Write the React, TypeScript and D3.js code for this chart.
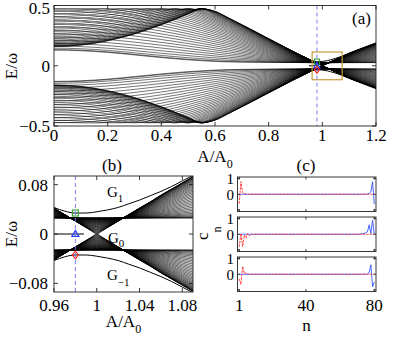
import React from 'react';
import * as d3 from 'd3';

// band envelopes (a)/(b): outer edge v (signed) and inner edge w
const A_S = [0, 0.05, 0.1, 0.15, 0.2, 0.25, 0.3, 0.35, 0.4, 0.45, 0.5, 0.55, 0.6, 0.65, 0.7, 0.75, 0.8, 0.85, 0.9, 0.95,
  0.96, 0.97, 0.98, 0.99, 0.995, 1.0, 1.005, 1.01, 1.02, 1.03, 1.04, 1.05, 1.06, 1.07, 1.08, 1.09, 1.1, 1.15, 1.2];
const V_EDGE = [0.84, 0.837, 0.828, 0.813, 0.792, 0.766, 0.735, 0.698, 0.658, 0.613, 0.565, 0.513, 0.458, 0.4, 0.342, 0.284, 0.225, 0.167, 0.109, 0.054,
  0.042, 0.0315, 0.021, 0.0105, 0.0052, 0, -0.0052, -0.0105, -0.021, -0.0315, -0.042, -0.052, -0.063, -0.073, -0.083, -0.093, -0.103, -0.145, -0.186];
const W_EDGE = [0.13, 0.129, 0.125, 0.119, 0.111, 0.101, 0.09, 0.079, 0.068, 0.058, 0.049, 0.042, 0.036, 0.032, 0.03, 0.029, 0.028, 0.027, 0.027, 0.026,
  0.026, 0.026, 0.026, 0.026, 0.026, 0.026, 0.026, 0.026, 0.026, 0.026, 0.026, 0.026, 0.026, 0.026, 0.026, 0.026, 0.026, 0.026, 0.026];
const N_LEVELS = 40;
const GAP_HALF = 0.026;

// edge state in gap G1 (G-1 is its mirror)
const G1_A = [0.96, 0.97, 0.98, 0.99, 1.0, 1.01, 1.02, 1.03, 1.04, 1.05, 1.06, 1.07, 1.08, 1.09, 1.1, 1.15, 1.2];
const G1_E = [0.043, 0.037, 0.034, 0.034, 0.036, 0.039, 0.043, 0.049, 0.055, 0.062, 0.069, 0.077, 0.086, 0.095, 0.104, 0.148, 0.19];
const ZERO_A = [0.95, 0.988];

const MARK_A = 0.98;
const MARK_E = { square: 0.034, triangle: 0, diamond: -0.034 };
const BOX_A = [0.962, 1.074];
const BOX_E = [-0.116, 0.114];

const TICKS_A = [0, 0.2, 0.4, 0.6, 0.8, 1, 1.2];
const TICKS_AY = [-0.5, 0, 0.5];
const TICKS_B = [0.96, 1, 1.04, 1.08];
const TICKS_BY = [-0.08, 0, 0.08];
const TICKS_N = [1, 40, 80];

// panel (c) amplitudes c_n, n = 1..80
const C1_RED_HEAD = [-0.6, 0.8, 0.1, 0.05, 0.02, 0];
const C1_BLUE_TAIL = [0, 0.02, 0.05, 0.15, 0.8, -0.63];
const C2_RED_HEAD = [-0.8, 0.05, -0.8, -0.05, -0.25, 0.05, -0.1, 0.02, -0.03, 0];
const C2_BLUE_TAIL = [0, 0.02, 0.03, 0.05, 0.1, 0.15, 0.6, 0.05, 0.9, 0.0];
const C3_RED_HEAD = [-0.3, -0.65, 0.5, 0.03, 0.1, 0.02, 0];
const C3_BLUE_TAIL = [0, 0.02, 0.1, 0.6, -0.8, -0.5];

const SITES = 80;
const padHead = (h: number[]) => h.concat(new Array(SITES - h.length).fill(0));
const padTail = (t: number[]) => new Array(SITES - t.length).fill(0).concat(t);

const FONT = "'Liberation Serif', 'Times New Roman', serif";
const DASH_COLOR = '#6f6ff0';

function levels() {
  const out: { a: number; e: number }[][] = [];
  const base = Math.sqrt(0.25 + GAP_HALF * GAP_HALF) - 0.5;
  for (let k = 0; k < N_LEVELS; k++) {
    const c = (1 + Math.cos((Math.PI * k) / (N_LEVELS - 1))) / 2;
    out.push(A_S.map((a, i) => {
      const v = V_EDGE[i], w = W_EDGE[i];
      const e = Math.sqrt(v * v * c + w * w * (1 - c));
      // reflect at the zone edge E = 0.5 with a small avoided crossing
      return { a, e: 0.5 - Math.sqrt((e - 0.5) ** 2 + GAP_HALF * GAP_HALF) + base };
    }));
  }
  return out;
}

const xA = d3.scaleLinear([0, 1.2], [54, 376]);
const yA = d3.scaleLinear([-0.5, 0.5], [126, 5.5]);
const xB = d3.scaleLinear([0.96, 1.09], [54, 193]);
const yB = d3.scaleLinear([-0.094, 0.094], [292, 176]);
const xC = d3.scaleLinear([0, 81], [237.5, 376]);
const C_TOPS = [177, 217, 257];
const C_H = 34.5;

function Spectrum({ x, y, id, lw }: any) {
  const lv = levels();
  const line = d3.line<{ a: number; e: number }>().x(d => x(d.a)).y(d => y(d.e)).curve(d3.curveMonotoneX);
  const neg = d3.line<{ a: number; e: number }>().x(d => x(d.a)).y(d => y(-d.e)).curve(d3.curveMonotoneX);
  const g1 = G1_A.map((a, i) => ({ a, e: G1_E[i] }));
  const [r0, r1] = x.range();
  const [b0, t0] = y.range();
  return (
    <g clipPath={`url(#${id})`}>
      <defs>
        <clipPath id={id}><rect x={r0} y={t0} width={r1 - r0} height={b0 - t0} /></clipPath>
      </defs>
      {lv.map((l, k) => <path key={'u' + k} d={line(l) || ''} fill="none" stroke="#000" strokeWidth={lw} />)}
      {lv.map((l, k) => <path key={'d' + k} d={neg(l) || ''} fill="none" stroke="#000" strokeWidth={lw} />)}
      <path d={line(g1) || ''} fill="none" stroke="#000" strokeWidth={1} />
      <path d={neg(g1) || ''} fill="none" stroke="#000" strokeWidth={1} />
      <line x1={x(ZERO_A[0])} x2={x(ZERO_A[1])} y1={y(0)} y2={y(0)} stroke="#000" strokeWidth={1} />
    </g>
  );
}

function Markers({ x, y, s }: any) {
  const cx = x(MARK_A);
  const ys = y(MARK_E.square), yt = y(MARK_E.triangle), yd = y(MARK_E.diamond);
  return (
    <g fill="none" strokeWidth={1.1}>
      <rect x={cx - s} y={ys - s} width={2 * s} height={2 * s} stroke="#2ea02e" />
      <path d={`M${cx},${yt - s * 1.2}L${cx + s * 1.2},${yt + s * 0.8}L${cx - s * 1.2},${yt + s * 0.8}Z`} stroke="#2040ff" />
      <path d={`M${cx},${yd - s * 1.3}L${cx + s},${yd}L${cx},${yd + s * 1.3}L${cx - s},${yd}Z`} stroke="#ff2020" />
    </g>
  );
}

function Frame({ x, y, xt, yt, tl }: any) {
  const [l, r] = x.range();
  const [b, t] = y.range();
  return (
    <g stroke="#222" strokeWidth={0.9}>
      <rect x={l} y={t} width={r - l} height={b - t} fill="none" />
      {xt.map((v: number) => (
        <g key={'x' + v}>
          <line x1={x(v)} x2={x(v)} y1={b} y2={b - tl} />
          <line x1={x(v)} x2={x(v)} y1={t} y2={t + tl} />
        </g>
      ))}
      {yt.map((v: number) => (
        <g key={'y' + v}>
          <line x1={l} x2={l + tl} y1={y(v)} y2={y(v)} />
          <line x1={r} x2={r - tl} y1={y(v)} y2={y(v)} />
        </g>
      ))}
    </g>
  );
}

const fmt = (v: number) => (v < 0 ? '\u2212' + String(Math.abs(v)) : String(v));

export default function App() {
  const cData = [
    [padHead(C1_RED_HEAD), padTail(C1_BLUE_TAIL)],
    [padHead(C2_RED_HEAD), padTail(C2_BLUE_TAIL)],
    [padHead(C3_RED_HEAD), padTail(C3_BLUE_TAIL)],
  ];
  return (
    <svg width={415} height={338} style={{ position: 'absolute', left: 0, top: 0, background: '#fff', fontFamily: FONT }}
      fontSize={17}>
      {/* panel (a) */}
      <Spectrum x={xA} y={yA} id="clipA" lw={0.55} />
      <line x1={xA(MARK_A)} x2={xA(MARK_A)} y1={yA(0.5)} y2={yA(-0.5)} stroke={DASH_COLOR} strokeWidth={0.9} strokeDasharray="4,3" />
      <rect x={xA(BOX_A[0])} y={yA(BOX_E[1])} width={xA(BOX_A[1]) - xA(BOX_A[0])} height={yA(BOX_E[0]) - yA(BOX_E[1])}
        fill="none" stroke="#c49a3c" strokeWidth={1.2} />
      <Markers x={xA} y={yA} s={2.6} />
      <Frame x={xA} y={yA} xt={TICKS_A} yt={TICKS_AY} tl={4} />
      {TICKS_A.map(v => <text key={v} x={xA(v)} y={141} textAnchor="middle">{v}</text>)}
      {TICKS_AY.map(v => <text key={v} x={50} y={v === 0.5 ? 8.5 : yA(v)} dy="0.35em" textAnchor="end">{fmt(v)}</text>)}
      <text x={352} y={24}>(a)</text>
      <text x={215} y={162} textAnchor="middle">A/A<tspan fontSize={12} dy={6}>0</tspan></text>
      <text transform="translate(17,66) rotate(-90)" textAnchor="middle">E/ω</text>

      {/* panel (b) */}
      <Spectrum x={xB} y={yB} id="clipB" lw={0.6} />
      <line x1={xB(MARK_A)} x2={xB(MARK_A)} y1={176} y2={292} stroke={DASH_COLOR} strokeWidth={0.9} strokeDasharray="4,3" />
      <Markers x={xB} y={yB} s={3} />
      <Frame x={xB} y={yB} xt={TICKS_B} yt={TICKS_BY} tl={4} />
      {TICKS_B.map(v => <text key={v} x={xB(v)} y={311} textAnchor="middle">{v}</text>)}
      {TICKS_BY.map(v => <text key={v} x={48} y={yB(v)} dy="0.35em" textAnchor="end">{fmt(v)}</text>)}
      <text x={112} y={171} textAnchor="middle">(b)</text>
      <text x={123.5} y={327} textAnchor="middle">A/A<tspan fontSize={12} dy={6}>0</tspan></text>
      <text transform="translate(17,234) rotate(-90)" textAnchor="middle">E/ω</text>
      <text x={107} y={197} fontSize={15}>G<tspan fontSize={11} dy={5}>1</tspan></text>
      <text x={108} y={243} fontSize={15}>G<tspan fontSize={11} dy={4}>0</tspan></text>
      <text x={107} y={280} fontSize={15}>G<tspan fontSize={11} dy={6}>−1</tspan></text>

      {/* panel (c) */}
      {cData.map(([red, blue], i) => {
        const y = d3.scaleLinear([-1.1, 1.1], [C_TOPS[i] + C_H, C_TOPS[i]]);
        const ln = d3.line<number>().x((_, j) => xC(j + 1)).y(d => y(d));
        return (
          <g key={i}>
            <path d={ln(blue) || ''} fill="none" stroke="#3355ff" strokeWidth={0.9} />
            <path d={ln(red) || ''} fill="none" stroke="#ff2a2a" strokeWidth={0.9} strokeDasharray="2.5,1" />
            <Frame x={xC} y={y} xt={TICKS_N} yt={[-1, 0, 1]} tl={2.5} />
            <text x={234} y={y(1) + 5} textAnchor="end" fontSize={15}>1</text>
            <text x={234} y={y(0) + 5.5} textAnchor="end" fontSize={15}>0</text>
          </g>
        );
      })}
      {TICKS_N.map(v => <text key={v} x={xC(v)} y={311} textAnchor="middle">{v}</text>)}
      <text x={306} y={171} textAnchor="middle">(c)</text>
      <text x={306.5} y={331} textAnchor="middle">n</text>
      <text transform="translate(208,240) rotate(-90)" textAnchor="start">c<tspan fontSize={12} dy={13}>n</tspan></text>
    </svg>
  );
}
